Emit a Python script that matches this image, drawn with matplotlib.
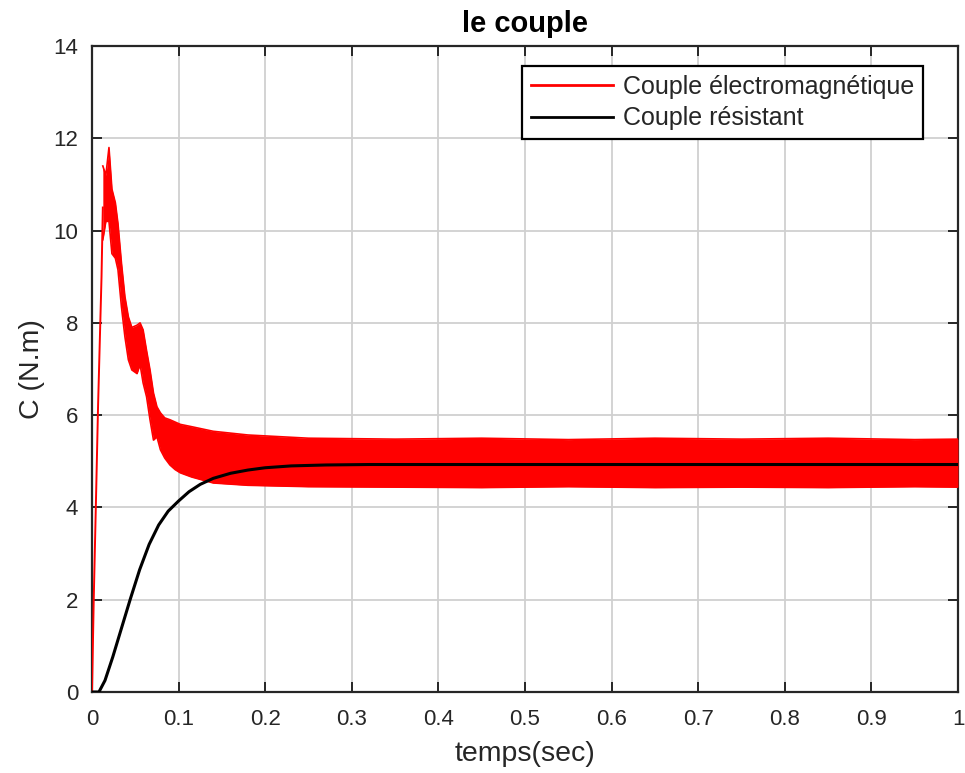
import matplotlib
matplotlib.use("Agg")
import matplotlib.pyplot as plt

# Electromagnetic torque: start-up rise, then ripple band (upper / lower envelope)
rise_t = [0.0, 0.002, 0.005, 0.007, 0.009, 0.011, 0.0125]
rise_c = [0.0, 2.0, 4.5, 6.2, 7.6, 9.0, 10.5]

band_t = [0.0125, 0.016, 0.0196, 0.023, 0.027, 0.030, 0.034, 0.038, 0.042, 0.046,
          0.052, 0.0555, 0.059, 0.063, 0.067, 0.071, 0.075, 0.079, 0.084, 0.090,
          0.096, 0.102, 0.115, 0.14, 0.18, 0.25, 0.35, 0.45, 0.55, 0.65, 0.75,
          0.85, 0.95, 1.0]
band_hi = [11.4, 11.2, 11.8, 10.9, 10.6, 10.15, 9.3, 8.57, 8.13, 7.9,
           7.95, 8.0, 7.85, 7.4, 6.98, 6.48, 6.18, 6.05, 5.94, 5.9,
           5.85, 5.8, 5.75, 5.65, 5.57, 5.5, 5.48, 5.5, 5.47, 5.5, 5.48,
           5.5, 5.47, 5.48]
band_lo = [9.8, 10.2, 10.2, 9.5, 9.4, 9.15, 8.35, 7.7, 7.2, 6.98,
           6.9, 7.1, 6.7, 6.4, 5.9, 5.46, 5.53, 5.25, 5.07, 4.92,
           4.82, 4.75, 4.66, 4.53, 4.48, 4.45, 4.44, 4.43, 4.45, 4.43, 4.44,
           4.43, 4.45, 4.44]

# Load torque
load_t = [0.0, 0.008, 0.015, 0.024, 0.034, 0.044, 0.055, 0.066, 0.077, 0.088,
          0.10, 0.112, 0.125, 0.14, 0.16, 0.18, 0.20, 0.23, 0.27, 0.32, 0.4, 1.0]
load_c = [0.0, 0.0, 0.25, 0.76, 1.38, 2.0, 2.65, 3.2, 3.62, 3.92,
          4.14, 4.34, 4.5, 4.63, 4.74, 4.81, 4.86, 4.9, 4.92, 4.93, 4.93, 4.93]

x_ticks = [0, 0.1, 0.2, 0.3, 0.4, 0.5, 0.6, 0.7, 0.8, 0.9, 1.0]
x_labels = ["0", "0.1", "0.2", "0.3", "0.4", "0.5", "0.6", "0.7", "0.8", "0.9", "1"]
y_ticks = [0, 2, 4, 6, 8, 10, 12, 14]

plt.rcParams["font.family"] = ["Liberation Sans", "DejaVu Sans"]
dark = "#262626"
red = "#ff0000"

fig = plt.figure(figsize=(9.65, 7.73), dpi=100)
ax = fig.add_axes([92 / 965, 1 - 692 / 773, 866 / 965, 646 / 773])

ax.plot(rise_t, rise_c, color=red, lw=1.4, zorder=3)
ax.fill_between(band_t, band_lo, band_hi, color=red, lw=0, zorder=3)
ax.plot(band_t, band_hi, color=red, lw=1.2, zorder=3)
ax.plot(band_t, band_lo, color=red, lw=1.2, zorder=3)
ax.plot(load_t, load_c, color="black", lw=2.2, zorder=4)

# legend proxies
h1, = ax.plot([], [], color=red, lw=2.0, label="Couple électromagnétique")
h2, = ax.plot([], [], color="black", lw=2.0, label="Couple résistant")

ax.set_xlim(0, 1)
ax.set_ylim(0, 14)
ax.set_xticks(x_ticks)
ax.set_xticklabels(x_labels)
ax.set_yticks(y_ticks)
ax.grid(True, color="#d0d0d0", lw=1.3)
ax.set_axisbelow(True)

ax.tick_params(direction="in", top=True, right=True, length=7, width=1.4,
               colors=dark, labelsize=16)
ax.tick_params(axis="x", pad=12)
ax.tick_params(axis="y", pad=10)
for s in ax.spines.values():
    s.set_color(dark)
    s.set_linewidth(1.6)

ax.set_xlabel("temps(sec)", fontsize=20.5, color=dark, labelpad=8)
ax.set_ylabel("C (N.m)", fontsize=20.5, color=dark, labelpad=6)
ax.set_title("le couple", fontsize=21, fontweight="bold", color="black", pad=10)

leg = ax.legend(handles=[h1, h2], loc="upper right",
                bbox_to_anchor=(923 / 965, 1 - 66 / 773),
                bbox_transform=fig.transFigure, borderaxespad=0,
                fontsize=18, frameon=True, fancybox=False, framealpha=1,
                handlelength=3.3, handletextpad=0.4, borderpad=0.35,
                labelspacing=0.3)
leg.get_frame().set_edgecolor("black")
leg.get_frame().set_linewidth(1.6)
for t in leg.get_texts():
    t.set_color(dark)

fig.savefig("out.png", dpi=100)
